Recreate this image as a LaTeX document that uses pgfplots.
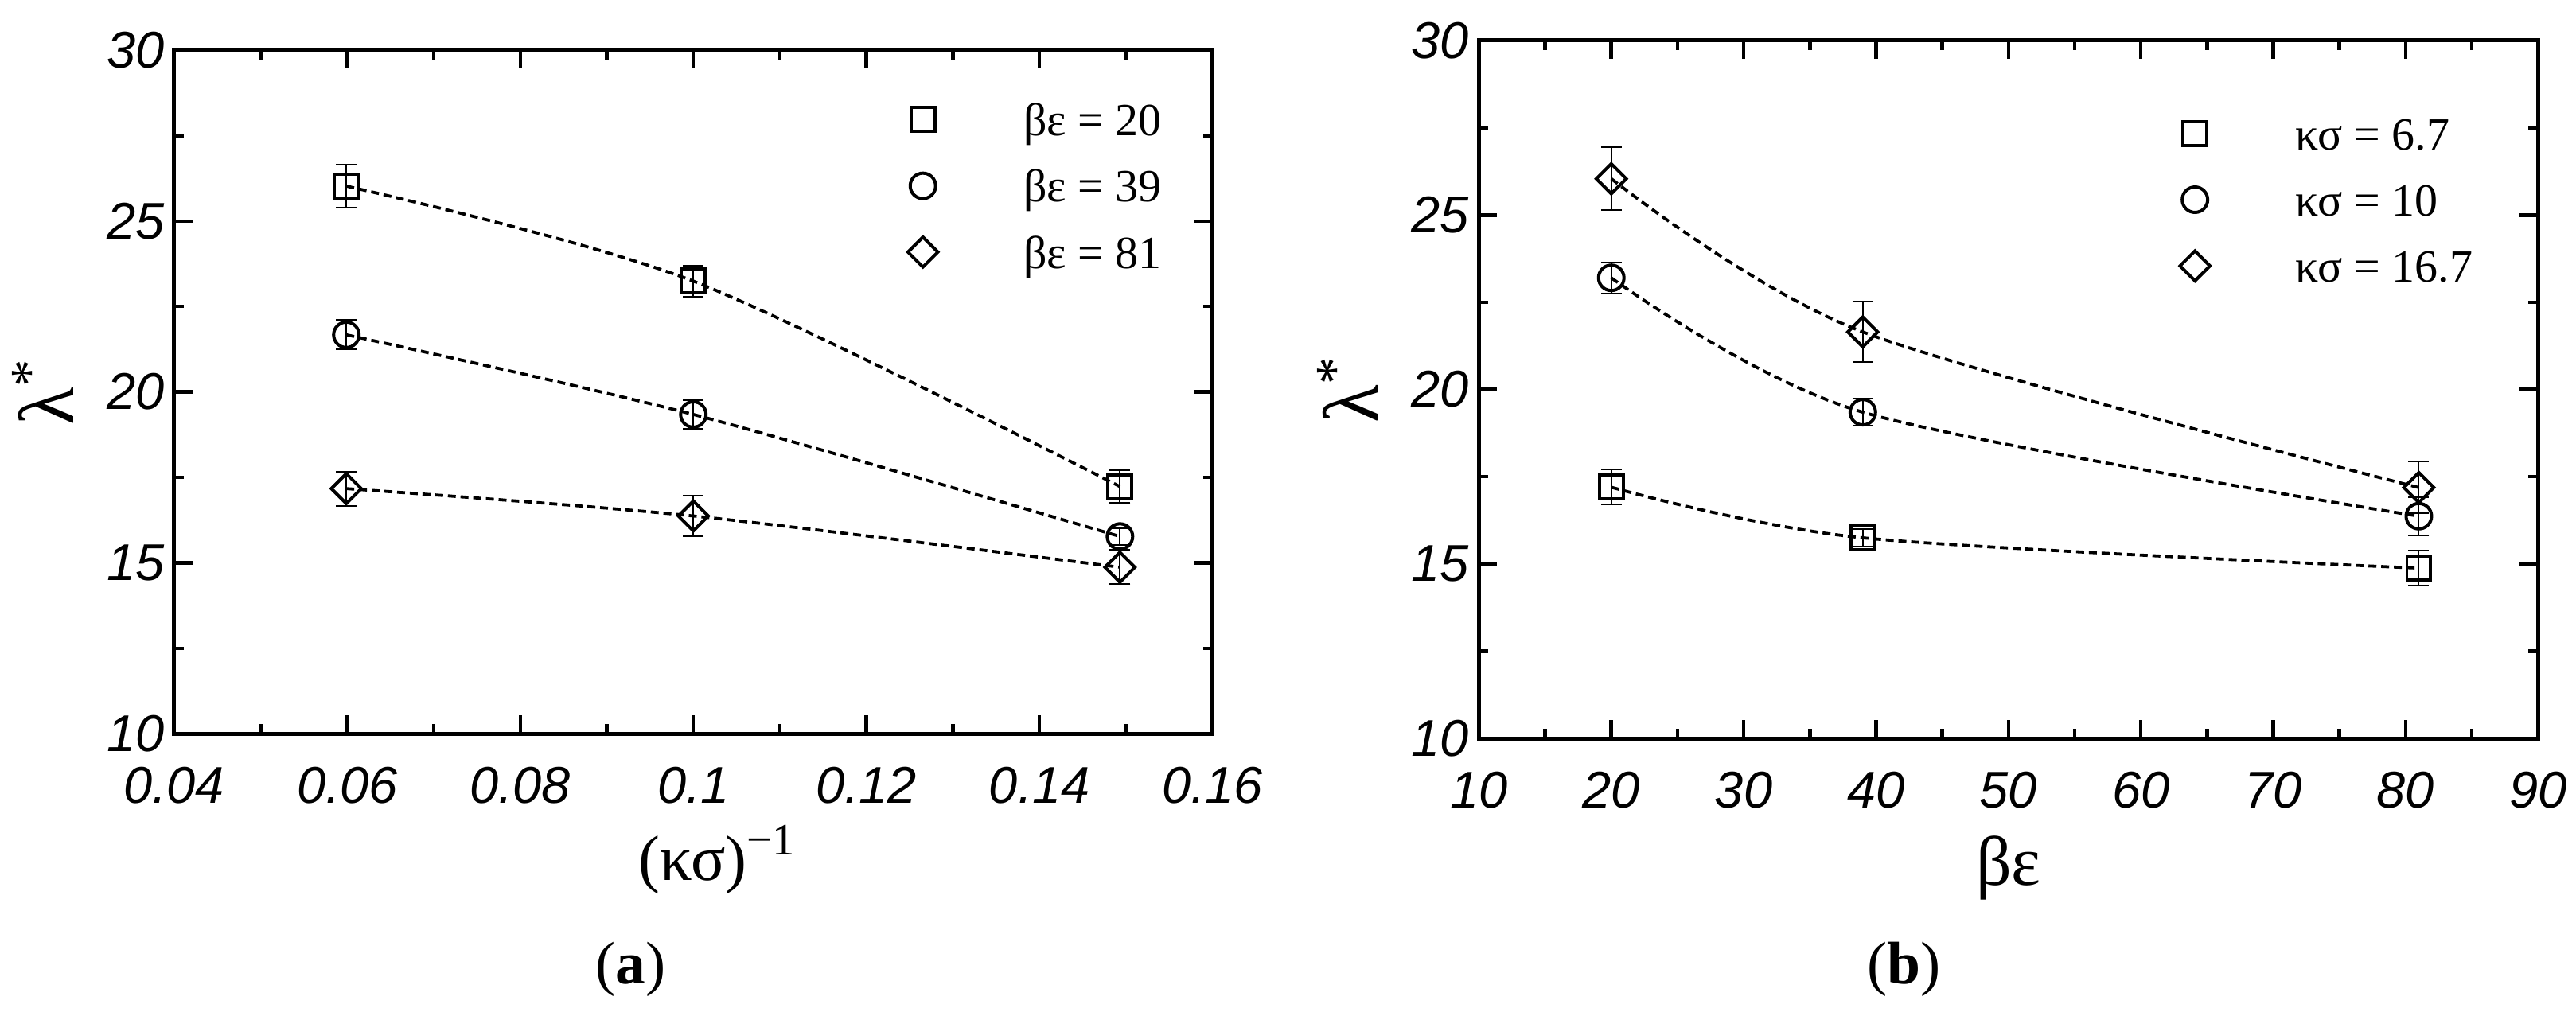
\documentclass[border=0pt]{standalone}
\usepackage{fontspec}
\setmainfont{Liberation Serif}
\newfontfamily\tickfont{Liberation Sans}
\usepackage{pgfplots}
\pgfplotsset{compat=1.18}
\pgfplotsset{
 panel/.style={
  scale only axis, anchor=north west,
  axis line style={line width=0.5mm},
  major tick length=2.3mm, minor tick length=1.2mm,
  every tick/.style={black, line width=0.45mm},
  tick align=inside,
  ymin=10, ymax=30, ytick={10,15,20,25,30}, minor y tick num=1,
  /pgf/number format/assume math mode=true,
  tick label style={font=\tickfont\itshape\fontsize{18.5}{20}\selectfont},
  xticklabel style={yshift=-3.0mm},
  ylabel={λ\textsuperscript{*}},
  ylabel style={font=\fontsize{28}{30}\selectfont, at={(axis description cs:0,0.5)}, anchor=center, yshift=16.5mm},
  legend cell align=left,
  clip=false,
 },
 curve/.style={smooth, black, line width=0.38mm, dash pattern=on 1mm off 0.6mm, forget plot, mark=none},
 pts/.style={only marks, black, line width=0.4mm,
   legend image code/.code={\draw[##1] plot coordinates {(0mm,0mm)};},
   /pgfplots/error bars/y dir=both, /pgfplots/error bars/y explicit,
   /pgfplots/error bars/error bar style={line width=0.2mm, solid, black},
   /pgfplots/error bars/error mark options={rotate=90, line width=0.2mm, mark size=1.3mm, black}},
 sq/.style={pts, mark=square, mark size=1.5mm, mark options={solid}},
 ci/.style={pts, mark=o, mark size=1.6mm, mark options={solid}},
 di/.style={pts, mark=square, mark size=1.33mm, mark options={solid, rotate=45}},
 leg/.style={legend style={draw=none, fill=none, inner sep=0pt, outer sep=0pt,
   at={#1}, anchor=north west, font=\fontsize{16.5}{18}\selectfont,
   row sep=3.2mm, nodes={inner sep=0pt},
   /tikz/every odd column/.append style={column sep=10.8mm}}},
}
\newcommand{\lt}[1]{\raisebox{0pt}[4.6mm][0pt]{#1}}
\begin{document}
\begin{tikzpicture}
\path (0,0) rectangle (323.7mm,-127.3mm);
% ---------- panel (a)
\begin{axis}[panel, at={(21.9mm,-6.3mm)}, width=130.6mm, height=86mm,
  xmin=0.04, xmax=0.16,
  xtick={0.04,0.06,0.08,0.1,0.12,0.14,0.16},
  xticklabels={0.04,0.06,0.08,0.1,0.12,0.14,0.16},
  minor x tick num=1,
  xlabel={(κσ)\textsuperscript{−1}},
  xlabel style={font=\fontsize{23}{28}\selectfont, at={(axis description cs:0.5,0)}, anchor=base, yshift=-18.4mm, xshift=3mm},
  leg={(axis description cs:0.7067,0.928)}]
\addplot[curve] coordinates {(0.0599,26.02) (0.1,23.24) (0.1493,17.23)};
\addplot[curve] coordinates {(0.0599,21.67) (0.1,19.34) (0.1493,15.77)};
\addplot[curve] coordinates {(0.0599,17.17) (0.1,16.37) (0.1493,14.87)};
\addplot[sq] coordinates {(0.0599,26.02) +- (0,0.62) (0.1,23.24) +- (0,0.45) (0.1493,17.23) +- (0,0.47)};
\addlegendentry{\lt{βε = 20}}
\addplot[ci] coordinates {(0.0599,21.67) +- (0,0.43) (0.1,19.34) +- (0,0.41) (0.1493,15.77) +- (0,0.25)};
\addlegendentry{\lt{βε = 39}}
\addplot[di] coordinates {(0.0599,17.17) +- (0,0.5) (0.1,16.37) +- (0,0.6) (0.1493,14.87) +- (0,0.5)};
\addlegendentry{\lt{βε = 81}}
\end{axis}
% ---------- panel (b)
\begin{axis}[panel, at={(186.0mm,-5.1mm)}, width=133.2mm, height=87.8mm,
  xmin=10, xmax=90, xtick={10,20,...,90}, minor x tick num=1,
  xlabel={βε},
  xlabel style={font=\fontsize{25}{28}\selectfont, at={(axis description cs:0.5,0)}, anchor=base, yshift=-18.4mm},
  leg={(axis description cs:0.662,0.896)}]
\addplot[curve] coordinates {(20,17.2) (39,15.75) (81,14.88)};
\addplot[curve] coordinates {(20,23.2) (39,19.35) (81,16.37)};
\addplot[curve] coordinates {(20,26.04) (39,21.65) (81,17.19)};
\addplot[sq] coordinates {(20,17.2) +- (0,0.5) (39,15.75) +- (0,0.25) (81,14.88) +- (0,0.5)};
\addlegendentry{\lt{κσ = 6.7}}
\addplot[ci] coordinates {(20,23.2) +- (0,0.44) (39,19.35) +- (0,0.39) (81,16.37) +- (0,0.55)};
\addlegendentry{\lt{κσ = 10}}
\addplot[di] coordinates {(20,26.04) +- (0,0.9) (39,21.65) +- (0,0.87) (81,17.19) +- (0,0.74)};
\addlegendentry{\lt{κσ = 16.7}}
\end{axis}
\node[font=\fontsize{21.5}{24}\selectfont, anchor=base] at (79.3mm,-123.8mm) {(\textbf{a})};
\node[font=\fontsize{21.5}{24}\selectfont, anchor=base] at (239.5mm,-123.8mm) {(\textbf{b})};
\end{tikzpicture}
\end{document}
